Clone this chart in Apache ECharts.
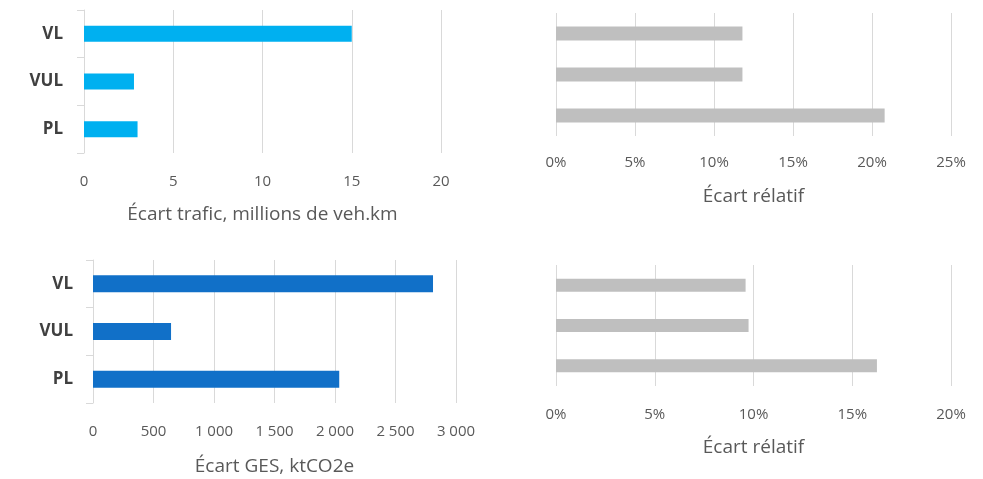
<!DOCTYPE html>
<html><head><meta charset="utf-8">
<script src="https://cdn.jsdelivr.net/npm/echarts@6/dist/echarts.min.js"></script>
<style>html,body{margin:0;padding:0;background:#fff}#c{width:983px;height:479px}</style>
</head><body><div id="c"></div>
<script>
const categories = ['VL', 'VUL', 'PL'];
const traficEcart = [15.0, 2.8, 3.0];          // millions de veh.km
const traficRelatif = [11.8, 11.8, 20.8];      // %
const gesEcart = [2810, 645, 2035];            // ktCO2e
const gesRelatif = [9.6, 9.75, 16.25];         // %
const traficTicks = {min: 0, max: 20, interval: 5};
const traficRelTicks = {min: 0, max: 25, interval: 5};
const gesTicks = {min: 0, max: 3000, interval: 500};
const gesRelTicks = {min: 0, max: 20, interval: 5};
const names = ['Écart trafic, millions de veh.km', 'Écart rélatif', 'Écart GES, ktCO2e', 'Écart rélatif'];

const FONT = '"Open Sans", sans-serif';
const grid = '#D9D9D9';
const fmtThousands = v => String(v).replace(/\B(?=(\d{3})+(?!\d))/g, ' ');

function xAx(idx, t, fmt, margin, gap) {
  return {
    type: 'value', gridIndex: idx, min: t.min, max: t.max, interval: t.interval,
    axisLine: {show: false}, axisTick: {show: false},
    splitLine: {show: true, lineStyle: {color: grid, width: 1}},
    axisLabel: {color: '#595959', fontSize: 15, fontFamily: FONT, margin: margin, formatter: fmt},
    name: names[idx], nameLocation: 'middle', nameGap: gap,
    nameTextStyle: {color: '#595959', fontSize: 19, fontFamily: FONT, verticalAlign: 'top'}
  };
}
function yAx(idx, showLabels, margin) {
  return {
    type: 'category', gridIndex: idx, data: categories, inverse: true,
    axisLine: {show: showLabels, lineStyle: {color: grid}},
    axisTick: {show: showLabels, length: 7, lineStyle: {color: grid}, alignWithLabel: false},
    axisLabel: {show: showLabels, color: '#404040', fontSize: 17, fontWeight: 'bold', fontFamily: FONT, margin: margin},
    splitLine: {show: false}
  };
}

const option = {
  animation: false,
  backgroundColor: '#fff',
  grid: [
    {left: 84, top: 10, width: 357, height: 143},
    {left: 556, top: 13, width: 395, height: 123},
    {left: 93, top: 260, width: 363, height: 143},
    {left: 556, top: 265, width: 395, height: 121}
  ],
  xAxis: [
    xAx(0, traficTicks, v => v, 21, 52),
    xAx(1, traficRelTicks, v => v + '%', 19, 51),
    xAx(2, gesTicks, fmtThousands, 21, 54),
    xAx(3, gesRelTicks, v => v + '%', 21, 52)
  ],
  yAxis: [yAx(0, true, 21), yAx(1, false, 0), yAx(2, true, 20), yAx(3, false, 0)],
  series: [
    {type: 'bar', xAxisIndex: 0, yAxisIndex: 0, data: traficEcart, barWidth: 16, itemStyle: {color: '#00B0F0'}},
    {type: 'bar', xAxisIndex: 1, yAxisIndex: 1, data: traficRelatif, barWidth: 14, itemStyle: {color: '#BFBFBF'}},
    {type: 'bar', xAxisIndex: 2, yAxisIndex: 2, data: gesEcart, barWidth: 17, itemStyle: {color: '#1170C8'}},
    {type: 'bar', xAxisIndex: 3, yAxisIndex: 3, data: gesRelatif, barWidth: 13, itemStyle: {color: '#BFBFBF'}}
  ]
};
const chart = echarts.init(document.getElementById('c'), null, {renderer: 'canvas'});
chart.setOption(option);
</script></body></html>
